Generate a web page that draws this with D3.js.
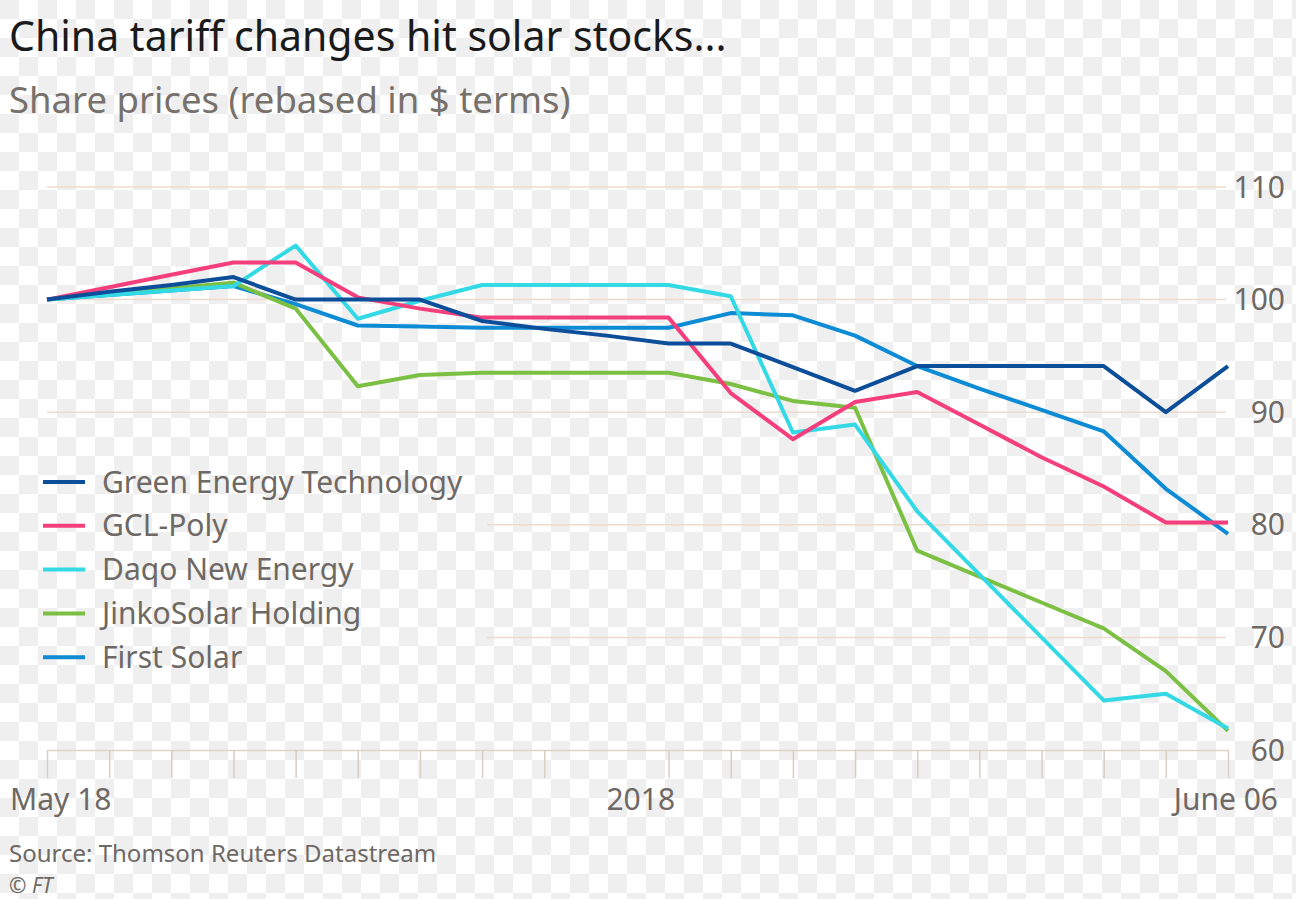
<!DOCTYPE html>
<html>
<head>
<meta charset="utf-8">
<script src="https://cdn.jsdelivr.net/npm/d3@7"></script>
<style>
  body { margin: 0; background: #fff; }
  svg { display: block; }
  svg text { font-family: "Noto Sans", sans-serif; }
</style>
</head>
<body>
<div id="root"></div>
<script>
const WIDTH = 1296;
const HEIGHT = 899;
const CELL = 19;

// daily points, May 18 -> June 06 2018
const dates = [
  "2018-05-18", "2018-05-19", "2018-05-20", "2018-05-21", "2018-05-22",
  "2018-05-23", "2018-05-24", "2018-05-25", "2018-05-26", "2018-05-27",
  "2018-05-28", "2018-05-29", "2018-05-30", "2018-05-31", "2018-06-01",
  "2018-06-02", "2018-06-03", "2018-06-04", "2018-06-05", "2018-06-06"
];

const seriesNames = ["Green Energy Technology", "GCL-Poly", "Daqo New Energy", "JinkoSolar Holding", "First Solar"];
const seriesColors = ["#0d4e9a", "#f43f7c", "#33d9e5", "#7bc043", "#0d8bd4"];

const greenEnergy = [100, 100.7, 101.3, 102, 100, 100, 100, 98.1, 97.4, 96.8, 96.1, 96.1, 94, 91.9, 94.1, 94.1, 94.1, 94.1, 90, 94.1];
const gclPoly     = [100, 101.1, 102.2, 103.3, 103.3, 100.2, 99.2, 98.4, 98.4, 98.4, 98.4, 91.7, 87.6, 90.9, 91.8, 88.9, 86.0, 83.4, 80.2, 80.2];
const daqo        = [100, 100.4, 100.8, 101.2, 104.8, 98.3, 99.9, 101.3, 101.3, 101.3, 101.3, 100.3, 88.2, 88.9, 81.2, 75.6, 70.0, 64.4, 65.0, 61.9];
const jinko       = [100, 100.5, 101.0, 101.5, 99.2, 92.3, 93.3, 93.5, 93.5, 93.5, 93.5, 92.5, 91.0, 90.4, 77.7, 75.4, 73.1, 70.8, 67.0, 61.7];
const firstSolar  = [100, 100.4, 100.8, 101.2, 99.6, 97.7, 97.6, 97.5, 97.5, 97.5, 97.5, 98.8, 98.6, 96.8, 94.1, 92.1, 90.2, 88.3, 83.2, 79.2];

const yTicks = [60, 70, 80, 90, 100, 110];
const xLabels = [
  {date: "2018-05-18", text: "May 18", anchor: "start", dx: -37},
  {date: "2018-05-27", text: "2018", anchor: "start", dx: 0},
  {date: "2018-06-06", text: "June 06", anchor: "end", dx: 50}
];
const noTickDates = ["2018-05-27"];

const parse = d3.utcParse("%Y-%m-%d");
const allSeries = [greenEnergy, gclPoly, daqo, jinko, firstSolar].map((vals, i) => ({
  name: seriesNames[i],
  color: seriesColors[i],
  values: vals.map((v, j) => ({date: parse(dates[j]), value: v}))
}));

const xScale = d3.scaleUtc()
  .domain([parse(dates[0]), parse(dates[dates.length - 1])])
  .range([47, 1228]);

const yScale = d3.scaleLinear()
  .domain([60, 110])
  .range([750, 187]);

const svg = d3.select("#root")
  .append("svg")
  .attr("width", WIDTH)
  .attr("height", HEIGHT);

// light checker backdrop seen behind the reference chart
svg.append("rect").attr("width", WIDTH).attr("height", HEIGHT).attr("fill", "#ffffff");
const cells = [];
d3.range(Math.ceil(WIDTH / CELL)).forEach(c => {
  d3.range(Math.ceil(HEIGHT / CELL)).forEach(r => {
    if ((c + r) % 2 === 0) cells.push([c, r]);
  });
});
svg.append("g").selectAll("rect")
  .data(cells)
  .join("rect")
  .attr("x", d => d[0] * CELL)
  .attr("y", d => d[1] * CELL)
  .attr("width", CELL)
  .attr("height", CELL)
  .attr("fill", "#efefef");

// titles
svg.append("text")
  .attr("x", 9).attr("y", 51)
  .attr("font-size", 41)
  .attr("fill", "#1a1a1a")
  .text("China tariff changes hit solar stocks...");

svg.append("text")
  .attr("x", 9).attr("y", 113)
  .attr("font-size", 36.5)
  .attr("fill", "#77716c")
  .text("Share prices (rebased in $ terms)");

// gridlines (lower ones stop short of the legend)
svg.append("g").selectAll("line")
  .data(yTicks.filter(t => t > 60))
  .join("line")
  .attr("x1", d => d >= 90 ? 47 : 487)
  .attr("x2", 1226)
  .attr("y1", d => yScale(d))
  .attr("y2", d => yScale(d))
  .attr("stroke", "#eddcce")
  .attr("stroke-width", 1.5);

// y labels
svg.append("g").selectAll("text")
  .data(yTicks)
  .join("text")
  .attr("x", 1285)
  .attr("y", d => yScale(d))
  .attr("dy", "0.35em")
  .attr("text-anchor", "end")
  .attr("font-size", 30)
  .attr("fill", "#6e6964")
  .text(d => d);

// x axis with day ticks
const xAxis = d3.axisBottom(xScale)
  .tickValues(dates.filter(d => !noTickDates.includes(d)).map(parse))
  .tickSize(28)
  .tickSizeOuter(0)
  .tickFormat("");

const axisG = svg.append("g")
  .attr("transform", `translate(0, ${yScale(60)})`)
  .call(xAxis);
axisG.select(".domain").attr("stroke", "#ddd2c6").attr("stroke-width", 1.5);
axisG.selectAll(".tick line").attr("stroke", "#d9cec2").attr("stroke-width", 1.5);

svg.append("g").selectAll("text")
  .data(xLabels)
  .join("text")
  .attr("x", d => xScale(parse(d.date)) + d.dx)
  .attr("y", 810)
  .attr("text-anchor", d => d.anchor)
  .attr("font-size", 30)
  .attr("fill", "#6e6964")
  .text(d => d.text);

// lines, navy drawn last so it sits on top
const line = d3.line()
  .x(d => xScale(d.date))
  .y(d => yScale(d.value));

svg.append("g").selectAll("path")
  .data(allSeries.slice().reverse())
  .join("path")
  .attr("d", d => line(d.values))
  .attr("fill", "none")
  .attr("stroke", d => d.color)
  .attr("stroke-width", 4)
  .attr("stroke-linejoin", "round");

// legend
const legend = svg.append("g").attr("transform", "translate(43, 482)");
const legendRows = legend.selectAll("g")
  .data(allSeries)
  .join("g")
  .attr("transform", (d, i) => `translate(0, ${i * 43.8})`);
legendRows.append("line")
  .attr("x1", 0).attr("x2", 42)
  .attr("stroke", d => d.color)
  .attr("stroke-width", 4);
legendRows.append("text")
  .attr("x", 59)
  .attr("dy", "0.35em")
  .attr("font-size", 30)
  .attr("fill", "#6e6964")
  .text(d => d.name);

// footer
svg.append("text")
  .attr("x", 9).attr("y", 862)
  .attr("font-size", 24)
  .attr("fill", "#6e6964")
  .text("Source: Thomson Reuters Datastream");

svg.append("text")
  .attr("x", 9).attr("y", 893)
  .attr("font-size", 21)
  .attr("font-style", "italic")
  .attr("fill", "#6e6964")
  .text("© FT");
</script>
</body>
</html>
